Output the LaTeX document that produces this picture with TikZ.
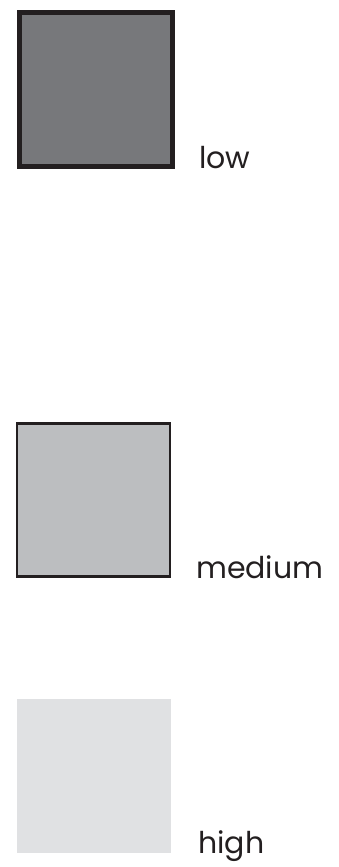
\documentclass[tikz,border=0pt]{standalone}
\usepackage{fontspec}
\setmainfont{Poppins}
\usepackage{xcolor}
\definecolor{lowgray}{HTML}{77787B}
\definecolor{medgray}{HTML}{BCBEC0}
\definecolor{highgray}{HTML}{E0E1E3}
\definecolor{edgeblack}{HTML}{231F20}

\begin{document}
\begin{tikzpicture}[x=1pt, y=-1pt, font=\fontsize{30}{33}\selectfont,
    swatch/.style={rectangle, inner sep=0pt, minimum size=#1},
    key/.style={anchor=base west, inner sep=0pt, text=edgeblack}]
  \useasboundingbox (0,0) rectangle (339,867);
  % swatches
  \node[swatch=153, draw=edgeblack, line width=5pt, fill=lowgray] (lowbox) at (96,89.5) {};
  \node[swatch=153, draw=edgeblack, line width=2.6pt, fill=medgray] (medbox) at (93.5,500) {};
  \node[swatch=154, fill=highgray] (highbox) at (94,776) {};
  % labels
  \node[key] (lowlbl) at (199,168) {low};
  \node[key] (medlbl) at (196,578) {medium};
  \node[key] (highlbl) at (198,853) {high};
\end{tikzpicture}
\end{document}
